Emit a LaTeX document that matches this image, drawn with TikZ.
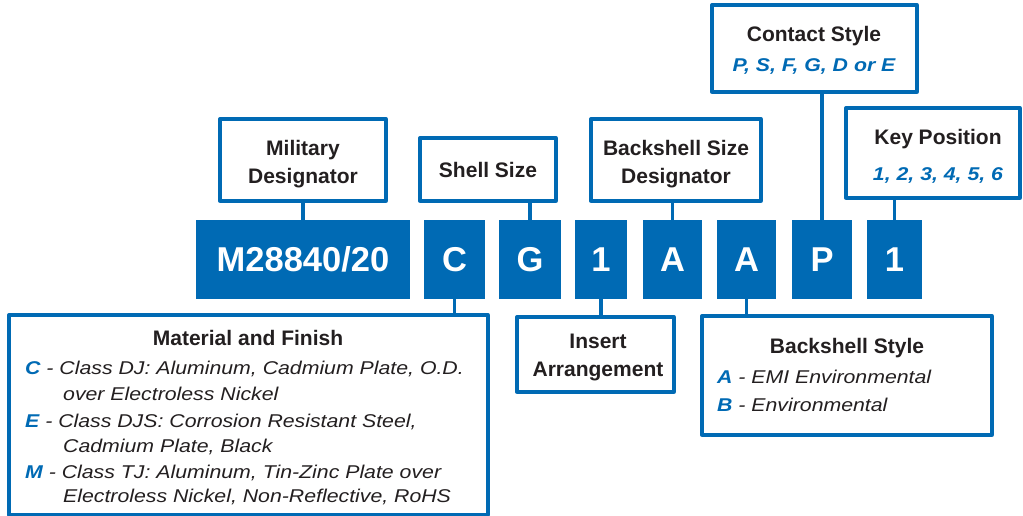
\documentclass[tikz,border=0pt]{standalone}
\usepackage{fontspec}
\setmainfont{Liberation Sans}
\newfontfamily\widesans{Liberation Sans}[FakeStretch=1.15]
\definecolor{pnblue}{RGB}{0,106,180}
\definecolor{pntext}{RGB}{35,31,32}
\begin{document}
\begin{tikzpicture}[x=1pt,y=-1pt, line join=round,
		codebox/.style={fill=pnblue, text=white, inner sep=0pt, font=\fontsize{34.5}{36}\selectfont\bfseries},
		labelbox/.style={draw=pnblue, line width=3.3pt, fill=white, inner sep=0pt},
		link/.style={draw=pnblue, line width=3.4pt},
		title/.style={text=pntext, font=\fontsize{21}{28}\selectfont\bfseries, align=center},
		entry/.style={text=pntext, anchor=base west, inner sep=0pt, font=\widesans\fontsize{18.5}{22}\selectfont\itshape},
		key/.style={text=pnblue, font=\widesans\fontsize{18.5}{22}\selectfont\bfseries\itshape}]
	\useasboundingbox (0,0) rectangle (1023,516);
	% Teilenummer
	\node[codebox] (m28) at (303,259.5) [minimum width=214pt, minimum height=79pt] {M28840/20};
	\node[codebox] (cc) at (454.5,259.5) [minimum width=61pt, minimum height=79pt] {C};
	\node[codebox] (gg) at (530,259.5) [minimum width=62pt, minimum height=79pt] {G};
	\node[codebox] (one) at (601,259.5) [minimum width=52pt, minimum height=79pt] {1};
	\node[codebox] (aa) at (672.5,259.5) [minimum width=59pt, minimum height=79pt] {A};
	\node[codebox] (ab) at (746.5,259.5) [minimum width=59pt, minimum height=79pt] {A};
	\node[codebox] (pp) at (822,259.5) [minimum width=60pt, minimum height=79pt] {P};
	\node[codebox] (two) at (894.5,259.5) [minimum width=55pt, minimum height=79pt] {1};
	% Kästen oben
	\node[labelbox] (mil) at (303,160) [minimum width=166pt, minimum height=82pt] {};
	\node[title] (milt) at (303,183) [anchor=base] {Military\\Designator};
	\node[labelbox] (shl) at (488,169.5) [minimum width=136pt, minimum height=63pt] {};
	\node[title] (shlt) at (488,178) [anchor=base] {Shell Size};
	\node[labelbox] (bsd) at (676,160) [minimum width=170pt, minimum height=82pt] {};
	\node[title] (bsdt) at (676,183) [anchor=base] {Backshell Size\\Designator};
	\node[labelbox] (con) at (814.5,48.5) [minimum width=205pt, minimum height=87pt] {};
	\node[title] (cont) at (814,42) [anchor=base] {Contact Style};
	\node[key] (conk) at (814,72) [anchor=base] {P, S, F, G, D or E};
	\node[labelbox] (kp) at (933,153) [minimum width=174pt, minimum height=90pt] {};
	\node[title] (kpt) at (938,145) [anchor=base] {Key Position};
	\node[key] (kpk) at (938,180) [anchor=base] {1, 2, 3, 4, 5, 6};
	% Kästen unten
	\node[labelbox] (mat) at (248.5,415) [minimum width=479pt, minimum height=200pt] {};
	\node[title] (matt) at (248,345) [anchor=base] {Material and Finish};
	\node[entry] (m1) at (25,374) {\textcolor{pnblue}{\bfseries C} - Class DJ: Aluminum, Cadmium Plate, O.D.};
	\node[entry] (m2) at (63,400) {over Electroless Nickel};
	\node[entry] (m3) at (25,427) {\textcolor{pnblue}{\bfseries E} - Class DJS: Corrosion Resistant Steel,};
	\node[entry] (m4) at (63,452) {Cadmium Plate, Black};
	\node[entry] (m5) at (25,478) {\textcolor{pnblue}{\bfseries M} - Class TJ: Aluminum, Tin-Zinc Plate over};
	\node[entry] (m6) at (63,502) {Electroless Nickel, Non-Reflective, RoHS};
	\node[labelbox] (ins) at (595.5,354.5) [minimum width=157pt, minimum height=75pt] {};
	\node[title] (inst) at (598,376) [anchor=base] {Insert\\Arrangement};
	\node[labelbox] (bst) at (847,375.5) [minimum width=290pt, minimum height=119pt] {};
	\node[title] (bstt) at (847,353) [anchor=base] {Backshell Style};
	\node[entry] (b1) at (717,383) {\textcolor{pnblue}{\bfseries A} - EMI Environmental};
	\node[entry] (b2) at (717,411) {\textcolor{pnblue}{\bfseries B} - Environmental};
	% Verbindungen
	\draw[link] (mil.south) -- (mil.south |- m28.north);
	\draw[link] (gg.north) -- (gg.north |- shl.south);
	\draw[link] (aa.north) -- (aa.north |- bsd.south);
	\draw[link] (pp.north) -- (pp.north |- con.south);
	\draw[link] (two.north) -- (two.north |- kp.south);
	\draw[link] (cc.south) -- (cc.south |- mat.north);
	\draw[link] (one.south) -- (one.south |- ins.north);
	\draw[link] (ab.south) -- (ab.south |- bst.north);
\end{tikzpicture}
\end{document}
